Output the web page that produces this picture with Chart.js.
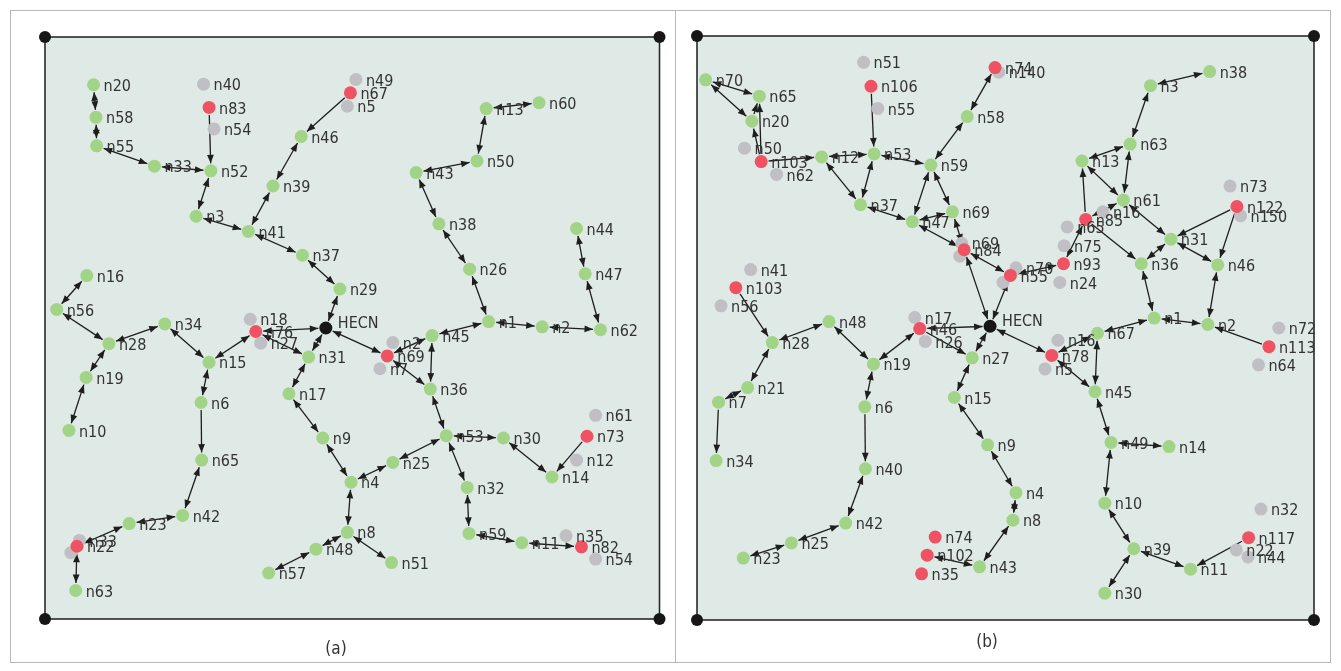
<!DOCTYPE html>
<html>
<head>
<meta charset="utf-8">
<script src="https://cdn.jsdelivr.net/npm/chart.js@4/dist/chart.umd.min.js"></script>
<style>
  body { margin: 0; background: #fff; }
  #fig { position: relative; width: 1341px; height: 671px; overflow: hidden; }
  .frame { position: absolute; left: 10px; top: 10px; width: 1321px; height: 653px; border: 1px solid #b8b8b8; box-sizing: border-box; }
  .divider { position: absolute; left: 675px; top: 10px; width: 1px; height: 653px; background: #b8b8b8; }
  canvas { position: absolute; top: 0; }
  .cap { position: absolute; font: 17px 'Liberation Sans Narrow', 'DejaVu Sans Condensed', sans-serif; color: #333; transform: translate(-50%, -50%); }
</style>
</head>
<body>
<div id="fig">
  <div class="frame"></div>
  <div class="divider"></div>
  <canvas id="netA" width="672" height="671" style="left:0"></canvas>
  <canvas id="netB" width="669" height="671" style="left:672px"></canvas>
  <div class="cap" style="left:336px; top:648px">(a)</div>
  <div class="cap" style="left:987px; top:641px">(b)</div>
</div>
<script>
// Field coordinates of the sensor nodes (0–1000 in both directions).
// Names after '#' only keep repeated labels apart; they are not drawn.

// ---------- network (a) ----------
const activeA = [
  ['n20',79,918],['n58',83,862],['n55',84,813],['n33',178,778],['n52',270,770],['n46',417,829],
  ['n39',371,744],['n3',246,692],['n41',331,666],['n13',718,877],['n60',804,887],['n50',703,787],
  ['n43',604,767],['n38',641,679],['n44',865,671],['n37',419,625],['n29',480,567],['n16',68,590],
  ['n56',19,532],['n28',104,473],['n34',195,507],['n15',267,441],['n31',429,450],['n19',67,415],
  ['n6',254,372],['n17',397,387],['n10',39,324],['n9',452,311],['n26',691,601],['n47',879,593],
  ['n1',722,511],['n2',809,502],['n62',904,497],['n45',630,487],['n36',627,395],['n53',653,315],
  ['n30',746,311],['n65',255,273],['n4',498,235],['n8',492,149],['n48',441,120],['n57',364,79],
  ['n42',224,178],['n23',137,164],['n63',50,49],['n25',566,269],['n32',687,226],['n14',825,244],
  ['n59',690,147],['n11',776,131],['n51',564,97]
];
const alertA = [
  ['n83',267,879],['n67',497,904],['n76',343,494],['n69',557,452],['n73',882,314],['n22',52,125],['n82',873,124]
];
const idleA = [
  ['n40',258,919],['n54',275,842],['n49',506,927],['n5',492,881],['n18',334,515],['n27',351,474],
  ['n2#2',566,475],['n7',545,430],['n61',896,350],['n33#2',56,135],['#a1',42,114],['n12',865,273],
  ['n35',848,143],['n54#2',896,103]
];
const sinkA = [['HECN',457,500]];
// [from, to, heads]: heads 2 = both ends, 1 = only at "to"
const linksA = [
  ['n20','n58',2],['n58','n55',2],['n55','n33',2],['n33','n52',2],['n83','n52',1],['n52','n3',2],
  ['n3','n41',2],['n41','n39',2],['n39','n46',2],['n67','n46',1],['n41','n37',2],['n37','n29',2],
  ['n29','HECN',2],['HECN','n76',2],['n76','n15',2],['n76','n31',2],['n31','HECN',2],['n31','n17',2],
  ['n17','n9',2],['n9','n4',2],['n4','n8',2],['n8','n48',2],['n48','n57',2],['n8','n51',2],
  ['n4','n25',2],['n25','n53',2],['n53','n30',2],['n30','n14',2],['n73','n14',1],['n53','n32',2],
  ['n32','n59',2],['n59','n11',2],['n11','n82',2],['n53','n36',2],['n36','n69',2],['n69','n45',2],
  ['HECN','n69',2],['n45','n36',2],['n45','n1',2],['n1','n26',2],['n26','n38',2],['n38','n43',2],
  ['n43','n50',2],['n50','n13',2],['n13','n60',2],['n1','n2',2],['n2','n62',2],['n62','n47',2],
  ['n47','n44',2],['n15','n34',2],['n34','n28',2],['n28','n56',2],['n56','n16',2],['n28','n19',2],
  ['n19','n10',2],['n15','n6',2],['n6','n65',1],['n65','n42',2],['n42','n23',2],['n23','n22',2],
  ['n22','n63',2]
];

// ---------- network (b) ----------
const activeB = [
  ['n70',14,925],['n65',101,897],['n20',89,854],['n12',202,793],['n53',287,798],['n59',379,779],
  ['n58',438,862],['n37',265,711],['n47',349,682],['n69',414,699],['n38',831,939],['n3',735,915],
  ['n63',702,815],['n13',624,786],['n61',691,719],['n31',768,652],['n48',214,511],['n28',122,475],
  ['n27',446,449],['n19',286,438],['n21',82,398],['n7',35,373],['n6',272,365],['n15',417,381],
  ['n36',720,610],['n46#2',844,608],['n1',741,517],['n2',828,506],['n67',649,491],['n45',645,391],
  ['n34',31,273],['n40',273,259],['n42',241,166],['n25',153,132],['n23',75,106],['n43',458,91],
  ['n9',471,300],['n49',671,304],['n14',765,297],['n4',517,218],['n8',512,171],['n10',661,200],
  ['n39',708,122],['n11',800,87],['n30',661,46]
];
const alertB = [
  ['n103',104,785],['n106',282,914],['n74',483,946],['n85',630,686],['n122',875,708],['n84',433,634],
  ['n103#2',63,569],['n46',361,499],['n93',594,610],['n55',508,590],['n113',927,468],['n78',575,453],
  ['n74#2',386,142],['n102',373,111],['n35',364,79],['n117',894,141]
];
const idleB = [
  ['n50',77,808],['n62',129,763],['n51',270,955],['n55#2',293,876],['n140',489,938],['n16',658,699],
  ['n65#2',600,673],['n73',864,743],['n150',881,692],['n69#2',429,645],['#b1',426,623],['n41',87,600],
  ['n56',39,538],['n17',353,518],['n26',370,477],['n75',595,641],['n24',588,578],['n70#2',517,603],
  ['#b2',496,578],['n72',943,500],['n64',910,437],['n16#2',585,479],['n5',564,430],['n32',914,190],
  ['n22',874,120],['n44',893,108]
];
const sinkB = [['HECN',475,503]];
const linksB = [
  ['n70','n65',2],['n70','n20',2],['n20','n65',1],['n103','n65',1],['n103','n20',1],['n103','n12',1],
  ['n12','n53',2],['n106','n53',1],['n53','n59',2],['n53','n37',2],['n12','n37',2],['n37','n47',2],
  ['n47','n59',2],['n47','n69',2],['n59','n69',2],['n59','n58',2],['n58','n74',2],['n47','n84',2],
  ['n69','n84',2],['n84','HECN',2],['n84','n55',2],['n55','HECN',2],['n55','n93',2],['n85','n93',2],
  ['n85','n13',1],['n85','n61',2],['n85','n36',1],['n13','n63',2],['n13','n61',2],['n63','n61',2],
  ['n63','n3',2],['n3','n38',2],['n61','n31',2],['n31','n36',2],['n31','n46#2',2],['n122','n31',1],
  ['n122','n46#2',1],['n46#2','n2',2],['n36','n1',2],['n1','n2',2],['n113','n2',1],['n1','n67',2],
  ['n67','n78',2],['HECN','n78',2],['n78','n45',2],['n67','n45',2],['n45','n49',2],['n49','n14',2],
  ['n49','n10',2],['n10','n39',2],['n39','n11',2],['n39','n30',2],['n117','n11',1],['HECN','n46',2],
  ['n46','n27',1],['HECN','n27',2],['n46','n19',2],['n19','n48',2],['n48','n28',2],['n103#2','n28',1],
  ['n28','n21',2],['n21','n7',2],['n7','n34',1],['n19','n6',2],['n6','n40',1],['n40','n42',2],
  ['n42','n25',2],['n25','n23',2],['n27','n15',2],['n15','n9',2],['n9','n4',2],['n4','n8',2],
  ['n8','n43',2],['n43','n102',2]
];

// Corners of the deployment field
const fieldCorners = [[0,0],[1000,0],[0,1000],[1000,1000]];

const COLORS = { active: '#a2d487', alert: '#ef5262', idle: '#bfbfc4', sink: '#161616', corner: '#161616' };
const FIELD_BG = '#dfe9e5';
const LABEL_FONT = "16px 'Liberation Sans Narrow', 'DejaVu Sans Condensed', sans-serif";
const NODE_R = 6.5;

const toPoints = rows => rows.map(r => ({ x: r[1], y: r[2], name: r[0] }));

// Field background and its frame
const fieldPlugin = {
  id: 'field',
  beforeDatasetsDraw(chart) {
    const { ctx, chartArea: a } = chart;
    ctx.save();
    ctx.fillStyle = FIELD_BG;
    ctx.fillRect(a.left, a.top, a.right - a.left, a.bottom - a.top);
    ctx.strokeStyle = '#2b2b2b';
    ctx.lineWidth = 1.6;
    ctx.strokeRect(a.left, a.top, a.right - a.left, a.bottom - a.top);
    ctx.restore();
  }
};

// Routing links with arrowheads
const linkPlugin = {
  id: 'links',
  beforeDatasetsDraw(chart, args, opts) {
    const { ctx, scales } = chart;
    const pos = {};
    chart.data.datasets.forEach(ds => ds.data.forEach(p => { if (p.name) pos[p.name] = p; }));
    const px = p => [scales.x.getPixelForValue(p.x), scales.y.getPixelForValue(p.y)];
    ctx.save();
    ctx.strokeStyle = '#1e1e1e';
    ctx.fillStyle = '#1e1e1e';
    ctx.lineWidth = 1.3;
    const head = (x, y, ux, uy) => {
      const L = 8.5, W = 3.4;
      ctx.beginPath();
      ctx.moveTo(x, y);
      ctx.lineTo(x - ux * L - uy * W, y - uy * L + ux * W);
      ctx.lineTo(x - ux * L + uy * W, y - uy * L - ux * W);
      ctx.closePath();
      ctx.fill();
    };
    opts.links.forEach(([from, to, heads]) => {
      const a = pos[from], b = pos[to];
      if (!a || !b) return;
      const [x1, y1] = px(a), [x2, y2] = px(b);
      const d = Math.hypot(x2 - x1, y2 - y1);
      const ux = (x2 - x1) / d, uy = (y2 - y1) / d;
      const g = NODE_R + 1;
      const sx = x1 + ux * g, sy = y1 + uy * g, ex = x2 - ux * g, ey = y2 - uy * g;
      ctx.beginPath();
      ctx.moveTo(sx, sy);
      ctx.lineTo(ex, ey);
      ctx.stroke();
      head(ex, ey, ux, uy);
      if (heads === 2) head(sx, sy, -ux, -uy);
    });
    ctx.restore();
  }
};

// Node names next to each marker
const labelPlugin = {
  id: 'nodeLabels',
  afterDatasetsDraw(chart) {
    const { ctx, scales } = chart;
    ctx.save();
    ctx.font = LABEL_FONT;
    ctx.fillStyle = '#333';
    ctx.textBaseline = 'middle';
    ctx.textAlign = 'left';
    chart.data.datasets.slice().reverse().forEach(ds => ds.data.forEach(p => {
      const text = (p.name || '').split('#')[0];
      if (!text) return;
      const x = scales.x.getPixelForValue(p.x), y = scales.y.getPixelForValue(p.y);
      if (text === 'HECN') ctx.fillText(text, x + 12, y - 4);
      else ctx.fillText(text, x + 10, y + 2);
    }));
    ctx.restore();
  }
};

function drawNetwork(id, active, alert, idle, sink, links, padding) {
  const ds = (data, color, order, r) => ({
    data, order, clip: false,
    pointRadius: r, pointHoverRadius: r,
    pointBackgroundColor: color, pointBorderWidth: 0, showLine: false
  });
  return new Chart(document.getElementById(id), {
    type: 'scatter',
    data: {
      datasets: [
        ds(toPoints(sink), COLORS.sink, 0, NODE_R),
        ds(toPoints(alert), COLORS.alert, 1, NODE_R),
        ds(toPoints(active), COLORS.active, 2, NODE_R),
        ds(toPoints(idle), COLORS.idle, 3, NODE_R),
        ds(fieldCorners.map(c => ({ x: c[0], y: c[1] })), COLORS.corner, 4, 6)
      ]
    },
    options: {
      responsive: false,
      animation: false,
      events: [],
      layout: { padding },
      scales: {
        x: { type: 'linear', min: 0, max: 1000, display: false },
        y: { type: 'linear', min: 0, max: 1000, display: false }
      },
      plugins: { legend: { display: false }, tooltip: { enabled: false }, links: { links } }
    },
    plugins: [fieldPlugin, linkPlugin, labelPlugin]
  });
}

drawNetwork('netA', activeA, alertA, idleA, sinkA, linksA, { left: 45, top: 37, right: 12.5, bottom: 52 });
drawNetwork('netB', activeB, alertB, idleB, sinkB, linksB, { left: 25, top: 36, right: 27, bottom: 51 });
</script>
</body>
</html>
